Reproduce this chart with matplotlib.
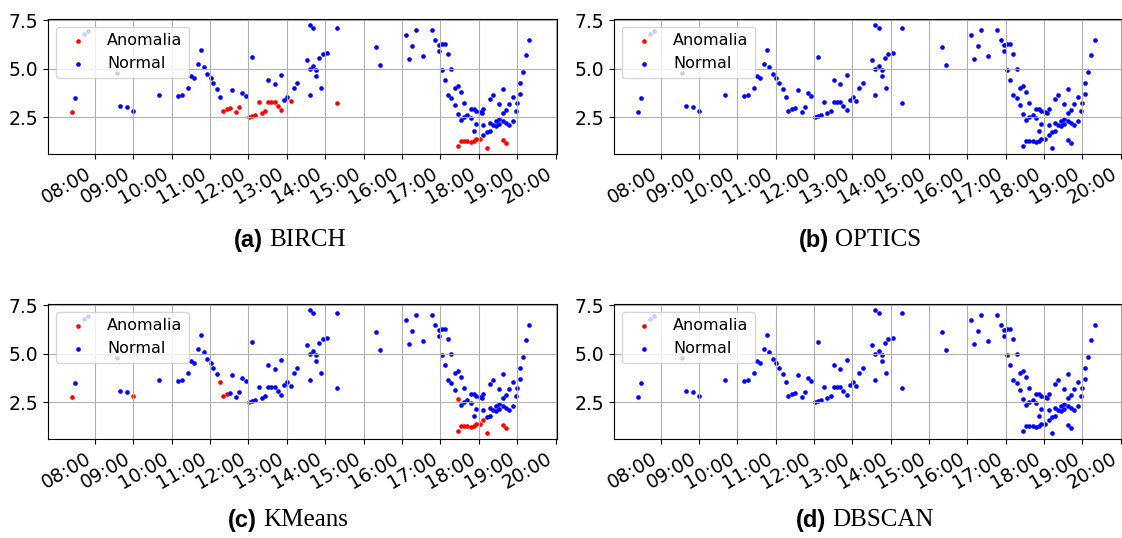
import numpy as np
import pandas as pd
import matplotlib
matplotlib.use("Agg")
import matplotlib.pyplot as plt
import matplotlib.dates as mdates

## Data
time_strs = ['07:24', '07:29', '07:44', '07:49', '08:34', '08:39', '08:50', '09:00',
             '09:40', '10:10', '10:16', '10:26', '10:31', '10:35', '10:41', '10:46',
             '10:50', '10:56', '11:01', '11:05', '11:11', '11:16', '11:20', '11:26',
             '11:31', '11:35', '11:41', '11:46', '11:50', '11:56', '12:01', '12:06',
             '12:11', '12:06', '12:16', '12:21', '12:26', '12:31', '12:31', '12:36',
             '12:41', '12:41', '12:46', '12:51', '12:51', '12:56', '13:01', '13:06',
             '13:11', '13:16', '13:31', '13:36', '13:36', '13:36', '13:41', '13:41',
             '13:46', '13:46', '13:51', '13:53', '13:56', '14:03', '14:18', '14:18',
             '15:20', '15:26', '16:06', '16:11', '16:16', '16:21', '16:32', '16:47',
             '16:52', '16:57', '16:57', '17:02', '17:07', '17:02', '17:07', '17:12',
             '17:12', '17:17', '17:17', '17:22', '17:22', '17:27', '17:27', '17:27',
             '17:32', '17:32', '17:32', '17:37', '17:37', '17:37', '17:42', '17:42',
             '17:47', '17:47', '17:47', '17:52', '17:52', '17:52', '17:56', '17:56',
             '17:56', '18:02', '18:02', '18:07', '18:07', '18:07', '18:12', '18:12',
             '18:17', '18:17', '18:17', '18:22', '18:22', '18:27', '18:27', '18:32',
             '18:32', '18:32', '18:37', '18:37', '18:37', '18:37', '18:42', '18:42',
             '18:42', '18:47', '18:47', '18:53', '18:53', '18:58', '18:59', '19:04',
             '19:04', '19:09', '19:14', '19:19', '18:05']
values = [2.78, 3.47, 6.81, 6.95, 4.76, 3.07, 3.02, 2.83,
          3.64, 3.59, 3.67, 4.02, 4.64, 4.50, 5.26, 5.97,
          5.07, 4.74, 4.53, 4.24, 3.98, 3.53, 2.84, 2.90,
          2.95, 3.88, 2.76, 3.05, 3.74, 3.57, 2.50, 2.57,
          2.60, 5.60, 3.28, 2.71, 2.81, 4.43, 3.31, 3.26,
          3.31, 4.21, 3.10, 2.86, 4.66, 3.41, 3.55, 3.36,
          4.00, 4.29, 5.45, 7.28, 4.98, 3.67, 7.12, 5.14,
          4.95, 4.62, 5.55, 4.00, 5.78, 5.79, 7.09, 3.24,
          6.12, 5.21, 6.76, 5.50, 6.19, 6.98, 5.66, 6.98,
          6.50, 5.91, 6.24, 6.28, 6.28, 4.93, 4.41, 5.76,
          3.67, 5.00, 3.48, 4.02, 3.12, 4.09, 2.67, 1.03,
          3.79, 2.36, 1.26, 3.22, 2.52, 1.28, 2.59, 1.29,
          2.93, 2.45, 1.22, 2.93, 1.79, 1.26, 2.81, 2.14,
          1.38, 2.78, 1.40, 2.90, 2.10, 1.60, 1.76, 0.91,
          2.21, 1.79, 3.45, 3.67, 2.09, 2.31, 2.07, 2.40,
          2.14, 3.19, 3.98, 2.72, 2.31, 1.31, 2.86, 2.19,
          1.17, 3.16, 2.10, 3.52, 2.29, 2.81, 3.21, 4.29,
          3.71, 4.83, 5.71, 6.50, 2.71]

# indices of the points flagged as anomalies by each method
birch_anom = [0, 22, 23, 24, 26, 27, 30, 31, 32, 34, 35, 36, 38, 39, 40, 42, 43,
              47, 63, 87, 90, 93, 95, 98, 101, 104, 106, 111, 125, 128]
optics_anom = []
kmeans_anom = [0, 7, 21, 22, 23, 30, 86, 87, 90, 93, 95, 98, 101, 104, 106, 109,
               111, 125, 128]
dbscan_anom = []

letters = ['(a)', '(b)', '(c)', '(d)']
methods = ['BIRCH', 'OPTICS', 'KMeans', 'DBSCAN']
anomalies = [birch_anom, optics_anom, kmeans_anom, dbscan_anom]

## Figure
W, H = 1122, 538
fig = plt.figure(figsize=(W / 100, H / 100), dpi=100)

t = pd.to_datetime(['2021-01-01 ' + s for s in time_strs])
v = np.array(values)

# axes boxes in pixels: left, top, width, height
boxes = [(48, 19, 509, 135), (614, 19, 508, 135),
         (48, 304, 509, 135), (614, 304, 508, 135)]
# caption anchors (x where letter ends, y centre)
captions = [(263, 240), (829, 240), (257, 520), (826, 520)]

for i in range(4):
    l, tp, w, h = boxes[i]
    ax = fig.add_axes([l / W, 1 - (tp + h) / H, w / W, h / H])
    mask = np.zeros(len(v), dtype=bool)
    mask[anomalies[i]] = True
    ax.scatter(t[mask], v[mask], c='red', s=11, linewidths=0, label='Anomalia')
    ax.scatter(t[~mask], v[~mask], c='blue', s=11, linewidths=0, label='Normal')
    ax.set_xlim(pd.Timestamp('2021-01-01 06:47'), pd.Timestamp('2021-01-01 20:02'))
    ax.set_ylim(0.6, 7.57)
    ax.set_yticks([2.5, 5.0, 7.5])
    ax.xaxis.set_major_locator(mdates.HourLocator(byhour=range(8, 21)))
    ax.xaxis.set_major_formatter(mdates.DateFormatter('%H:%M'))
    ax.tick_params(labelsize=13.5)
    plt.setp(ax.get_xticklabels(), rotation=30, ha='right')
    ax.grid(True, color='#b0b0b0', linewidth=0.8)
    ax.legend(loc='upper left', fontsize=11.5)

    cx, cy = captions[i]
    fig.text(cx / W, 1 - cy / H, letters[i], ha='right', va='center',
             fontsize=17, fontweight='bold', family='Liberation Sans')
    fig.text((cx + 6) / W, 1 - cy / H, methods[i], ha='left', va='center',
             fontsize=18, family='Liberation Serif')

fig.savefig('out.png', dpi=100)
